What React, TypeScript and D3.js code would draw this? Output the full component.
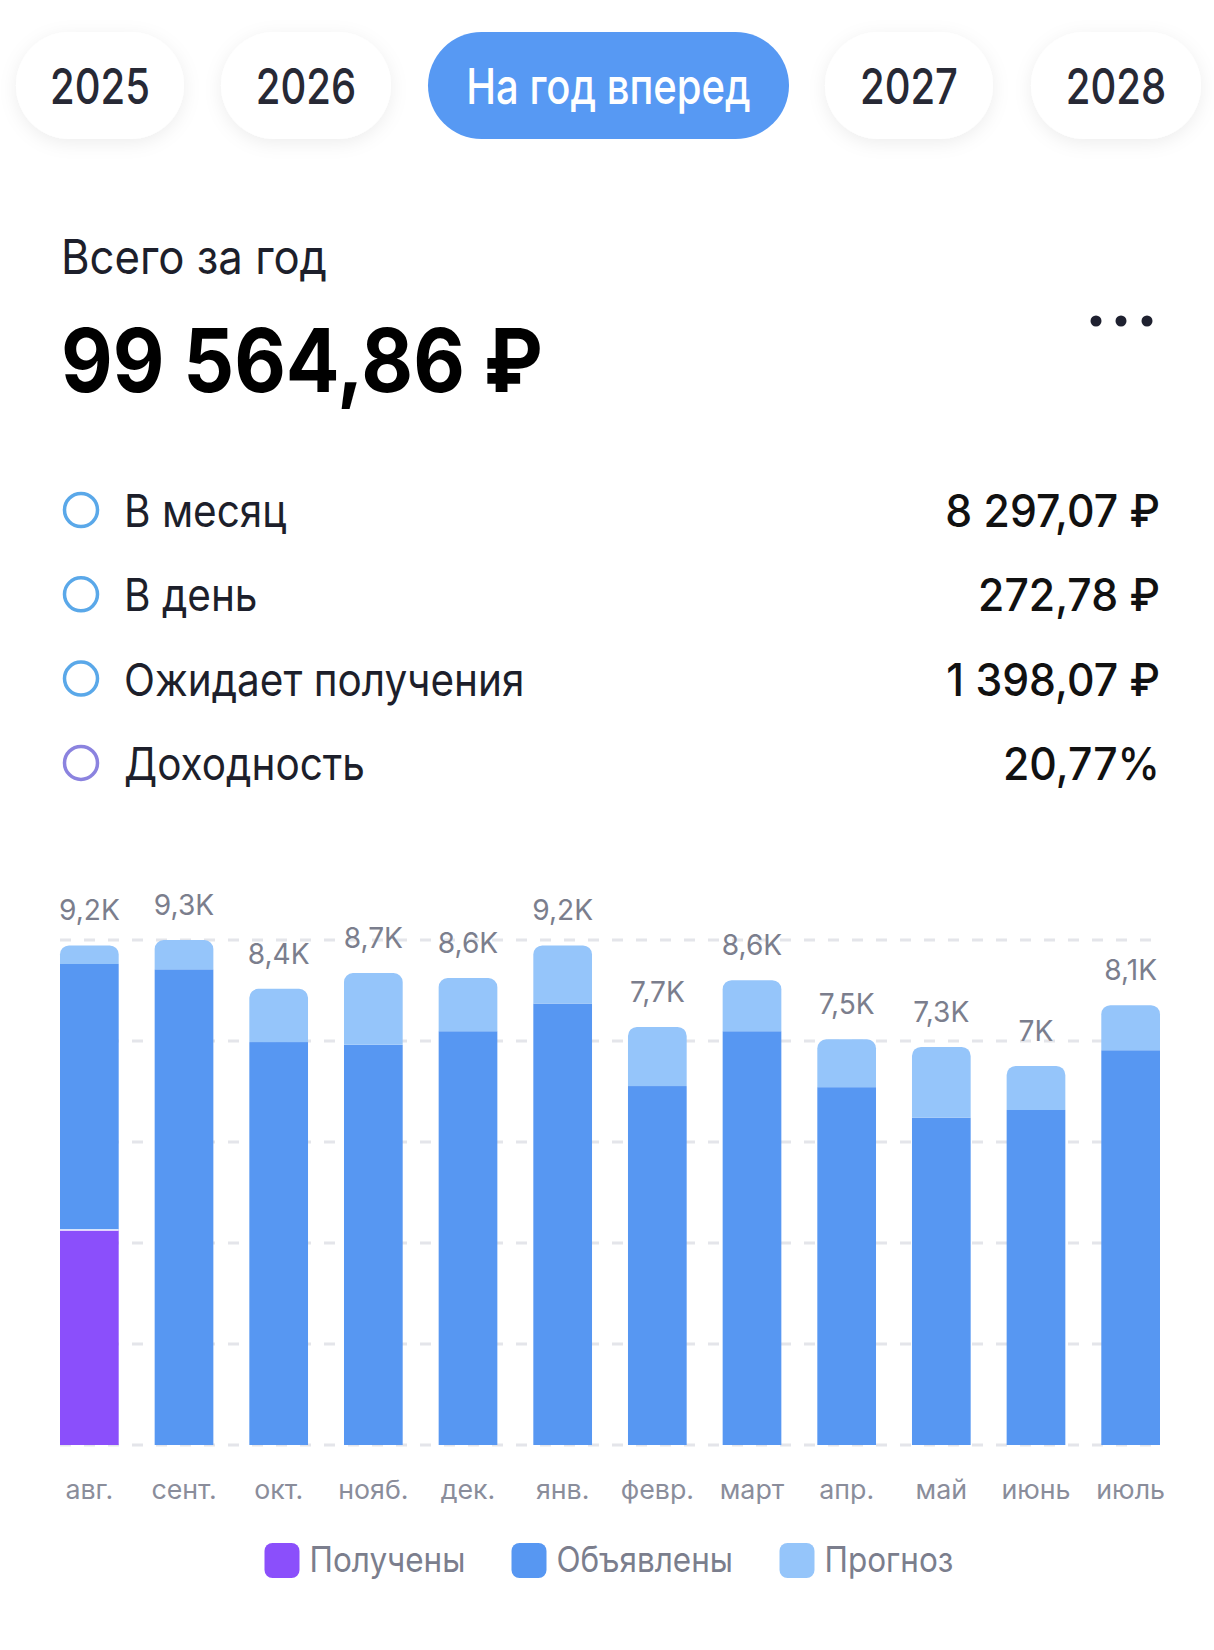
import React from 'react';
import * as d3 from 'd3';

// ---------- data ----------
const tabs = ['2025', '2026', 'На год вперед', '2027', '2028'];
const activeTab = 'На год вперед';
const totalLabel = 'Всего за год';
const totalValue = '99 564,86 ₽';
const statLabels = ['В месяц', 'В день', 'Ожидает получения', 'Доходность'];
const statValues = ['8 297,07 ₽', '272,78 ₽', '1 398,07 ₽', '20,77%'];
const months = ['авг.', 'сент.', 'окт.', 'нояб.', 'дек.', 'янв.', 'февр.', 'март', 'апр.', 'май', 'июнь', 'июль'];
const received = [3960, 0, 0, 0, 0, 0, 0, 0, 0, 0, 0, 0];
const announced = [4900, 8760, 7420, 7370, 7620, 8130, 6610, 7620, 6590, 6030, 6170, 7270];
const forecast = [340, 540, 980, 1320, 980, 1070, 1090, 940, 880, 1300, 810, 830];
const seriesNames = ['Получены', 'Объявлены', 'Прогноз'];

// ---------- style ----------
const FONT = "Inter, Roboto, 'Noto Sans', sans-serif";
const SX = 0.9;
const COLORS = ['#8b4ffb', '#5797f2', '#95c5fa'];
const circleColors = ['#5aa8e9', '#5aa8e9', '#5aa8e9', '#8b83df'];
const tabBoxes = [[16, 184], [221, 391], [428, 789], [825, 993], [1031, 1201]];

function T({ x, y, anchor = 'start', size, weight = 400, fill, sx = SX, children }: any) {
  return (
    <text
      transform={`translate(${x},${y}) scale(${sx},1)`}
      textAnchor={anchor}
      fontSize={size}
      fontWeight={weight}
      fill={fill}
      fontFamily={FONT}
    >
      {children}
    </text>
  );
}

function topRounded(x: number, y: number, w: number, h: number, r: number) {
  const rr = Math.min(r, h, w / 2);
  return `M${x},${y + h}V${y + rr}A${rr},${rr} 0 0 1 ${x + rr},${y}H${x + w - rr}A${rr},${rr} 0 0 1 ${x + w},${y + rr}V${y + h}Z`;
}

function fmtK(v: number) {
  const k = Math.round(v / 100) / 10;
  return (Number.isInteger(k) ? String(k) : k.toFixed(1).replace('.', ',')) + 'K';
}

export default function App() {
  const W = 1214, H = 1650;
  const totals = months.map((_, i) => received[i] + announced[i] + forecast[i]);
  const yMax = d3.max(totals) as number;
  const x = d3.scaleBand<string>().domain(months).range([60, 1160]).paddingInner(0.38).paddingOuter(0);
  const y = d3.scaleLinear().domain([0, yMax]).range([1445, 940]);
  const grid = d3.range(6).map((i) => (yMax * i) / 5);
  const stack = d3.stack<any>().keys(['r', 'a', 'f'])(
    months.map((m, i) => ({ m, r: received[i], a: announced[i], f: forecast[i] }))
  );
  const bw = x.bandwidth();

  return (
    <svg width={W} height={H} style={{ position: 'absolute', left: 0, top: 0, background: '#fff' }}>
      <defs>
        <filter id="sh" x="-30%" y="-40%" width="160%" height="180%">
          <feDropShadow dx="0" dy="4" stdDeviation="9" floodColor="#000" floodOpacity="0.07" />
        </filter>
      </defs>
      <rect width={W} height={H} fill="#fff" />

      {/* tabs */}
      {tabs.map((t, i) => {
        const [x0, x1] = tabBoxes[i];
        const active = t === activeTab;
        return (
          <g key={t}>
            <rect x={x0} y={32} width={x1 - x0} height={107} rx={53.5}
              fill={active ? '#5799f3' : '#fff'} filter={active ? undefined : 'url(#sh)'} />
            <T x={(x0 + x1) / 2} y={104} anchor="middle" size={50} weight={500} sx={0.8}
              fill={active ? '#fff' : '#272935'}>{t}</T>
          </g>
        );
      })}

      {/* header */}
      <T x={61} y={274} size={48} sx={0.91} fill="#1d1f2b">{totalLabel}</T>
      <T x={61} y={392} size={88} weight={700} sx={0.905} fill="#000">{totalValue}</T>
      {[1096, 1121, 1147].map((cx) => (
        <circle key={cx} cx={cx} cy={321} r={5.5} fill="#1f2130" />
      ))}

      {/* stats */}
      {statLabels.map((l, i) => {
        const cy = 510 + i * 84.3;
        return (
          <g key={l}>
            <circle cx={81} cy={cy} r={16.5} fill="none" stroke={circleColors[i]} strokeWidth={3.5} />
            <T x={124} y={cy + 17} size={45} sx={0.9} fill="#1d1f2b">{l}</T>
            <T x={1160} y={cy + 17} anchor="end" size={45} weight={500} sx={0.95} fill="#111">{statValues[i]}</T>
          </g>
        );
      })}

      {/* grid */}
      {grid.map((g) => (
        <line key={g} x1={60} x2={1158} y1={y(g)} y2={y(g)} stroke="#e4e5ea" strokeWidth={3}
          strokeDasharray="11 13" />
      ))}

      {/* bars */}
      {stack.map((layer, li) => (
        <g key={li}>
          {layer.map((d, i) => {
            const h = y(d[0]) - y(d[1]);
            if (h <= 0) return null;
            const isTop = li === 2 || (li === 1 && forecast[i] === 0);
            const bx = x(months[i]) as number;
            return isTop ? (
              <path key={i} d={topRounded(bx, y(d[1]), bw, h, 9)} fill={COLORS[li]} />
            ) : (
              <rect key={i} x={bx} y={y(d[1])} width={bw} height={h} fill={COLORS[li]} />
            );
          })}
        </g>
      ))}
      {months.map((m, i) =>
        received[i] > 0 ? (
          <line key={m} x1={x(m)} x2={(x(m) as number) + bw} y1={y(received[i])} y2={y(received[i])}
            stroke="#fff" strokeWidth={1.5} />
        ) : null
      )}

      {/* value labels */}
      {months.map((m, i) => (
        <T key={m} x={(x(m) as number) + bw / 2} y={y(totals[i]) - 25} anchor="middle" size={29} sx={0.97}
          fill="#7b7e8d">{fmtK(totals[i])}</T>
      ))}

      {/* month labels */}
      {months.map((m) => (
        <T key={m} x={(x(m) as number) + bw / 2} y={1499} anchor="middle" size={26} sx={1.03} fill="#8a8d9b">{m}</T>
      ))}

      {/* legend */}
      {seriesNames.map((s, i) => {
        const sx0 = [264.5, 511.5, 779.5][i];
        return (
          <g key={s}>
            <rect x={sx0} y={1543} width={35} height={35} rx={8} fill={COLORS[i]} />
            <T x={sx0 + 45} y={1572} size={35} sx={0.9} fill="#7b7e8d">{s}</T>
          </g>
        );
      })}
    </svg>
  );
}
